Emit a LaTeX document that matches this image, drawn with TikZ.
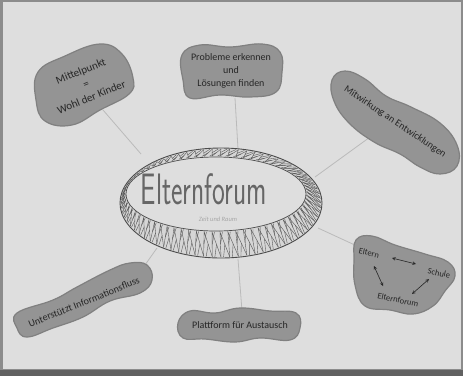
\documentclass[tikz,border=0pt]{standalone}
\usepackage{fontspec}
\setmainfont{Carlito}
\begin{document}
\begin{tikzpicture}[x=1pt,y=-1pt,
  blob/.style={fill=black!42,draw=black!50,line width=1.2pt},
  btext/.style={text=black!85,font=\fontsize{10}{13}\selectfont,align=center,inner sep=0pt},
  conn/.style={draw=black!27,line width=0.8pt},
  zz/.style={draw=black!65,line width=0.4pt},
  arr/.style={<->,>=stealth,draw=black!85,line width=0.6pt}]
\useasboundingbox (0,0) rectangle (463,376);
% photo background
\fill[black!45] (0,0) rectangle (463,376);
\fill[black!13] (3,2) rectangle (461,369);
\fill[black!62] (0,370) rectangle (463,376);

% connector end points
\coordinate (c1a) at (103,110); \coordinate (c1b) at (141,154);
\coordinate (c2a) at (235,98);  \coordinate (c2b) at (238,149);
\coordinate (c3a) at (377,132); \coordinate (c3b) at (315,177);
\coordinate (c4a) at (357,246); \coordinate (c4b) at (318,228);
\coordinate (c5a) at (242,311); \coordinate (c5b) at (238,259);
\coordinate (c6a) at (145,265); \coordinate (c6b) at (157,248);
\foreach \i in {1,...,6} {\draw[conn] (c\i a) -- (c\i b);}

% blobs
\path[blob] plot[smooth cycle,tension=0.7] coordinates
 {(38,72) (65,56) (100,44) (122,54) (133,78) (129,94) (100,110) (72,125) (45,121) (36,100)};
\path[blob] plot[smooth cycle,tension=0.7] coordinates
 {(182,55) (200,45) (230,47) (262,44) (280,52) (282,72) (276,92) (250,97) (220,95) (190,98) (183,80)};
\path[blob] plot[smooth cycle,tension=0.7] coordinates
 {(332,80) (345,71) (365,79) (386,96) (411,107) (440,123) (457,145) (457,166) (440,174) (420,167) (400,154) (374,142) (349,123) (334,101)};
\path[blob] plot[smooth cycle,tension=0.7] coordinates
 {(356,240) (372,236) (395,245) (425,254) (448,262) (455,276) (445,291) (433,306) (413,314) (390,310) (365,306) (355,285) (354,260)};
\path[blob] plot[smooth cycle,tension=0.7] coordinates
 {(178,323) (190,311) (215,313) (240,308) (270,311) (296,313) (300,328) (290,340) (260,338) (235,342) (205,339) (183,338)};
\path[blob] plot[smooth cycle,tension=0.7] coordinates
 {(17,313) (53,300) (77,287) (110,270) (130,263) (147,265) (152,280) (140,293) (110,301) (83,317) (53,328) (27,337) (17,328)};

% blob texts
\node[btext,rotate=22,font=\fontsize{11}{14}\selectfont] (t1) at (86,84) {Mittelpunkt\\=\\Wohl der Kinder};
\node[btext] (t2) at (231,71) {Probleme erkennen\\und\\Lösungen finden};
\node[btext,rotate=-34] (t3) at (395,122) {Mitwirkung an Entwicklungen};
\node[btext] (t5) at (240,325) {Plattform für Austausch};
\node[btext,rotate=22] (t6) at (84,302) {Unterstützt Informationsfluss};
\begin{scope}[every node/.style={btext,font=\fontsize{8.5}{10}\selectfont,rotate=-12}]
\node (e1) at (369,253) {Eltern};
\node (e2) at (439,273) {Schule};
\node (e3) at (398,300) {Elternforum};
\end{scope}
\coordinate (a1) at (392,258); \coordinate (a2) at (416,264);
\coordinate (a3) at (374,266); \coordinate (a4) at (383,286);
\coordinate (a5) at (429,279); \coordinate (a6) at (412,294);
\draw[arr] (a1) -- (a2);
\draw[arr] (a3) -- (a4);
\draw[arr] (a5) -- (a6);

% central ring
\fill[black!16] (221,203) ellipse [x radius=101, y radius=55];
\fill[black!13] (216,194) ellipse [x radius=90, y radius=37];
\foreach \t in {0,5,...,355} {
  \draw[zz] ({221+100*cos(\t)},{203+54*sin(\t)}) -- ({216+91*cos(\t+2.5)},{194+38*sin(\t+2.5)}) -- ({221+100*cos(\t+5)},{203+54*sin(\t+5)});
  \draw[zz] ({218.5+95.5*cos(\t+1.2)},{198.5+46*sin(\t+1.2)}) -- ({221+100*cos(\t+3.5)},{203+54*sin(\t+3.5)});
  \draw[zz] ({218.5+95.5*cos(\t+3.8)},{198.5+46*sin(\t+3.8)}) -- ({216+91*cos(\t+1)},{194+38*sin(\t+1)});
}
\draw[black!70,line width=0.9pt] (221,203) ellipse [x radius=101, y radius=55];
\draw[black!70,line width=0.7pt] (216,194) ellipse [x radius=90, y radius=37];
\node[inner sep=0pt,text=black!60,xscale=0.62,font=\sffamily\fontsize{44}{44}\selectfont] (title) at (204,189) {Elternforum};
\node[inner sep=0pt,text=black!35,font=\itshape\fontsize{6.5}{8}\selectfont] (sub) at (218,219) {Zeit und Raum};
\end{tikzpicture}
\end{document}
